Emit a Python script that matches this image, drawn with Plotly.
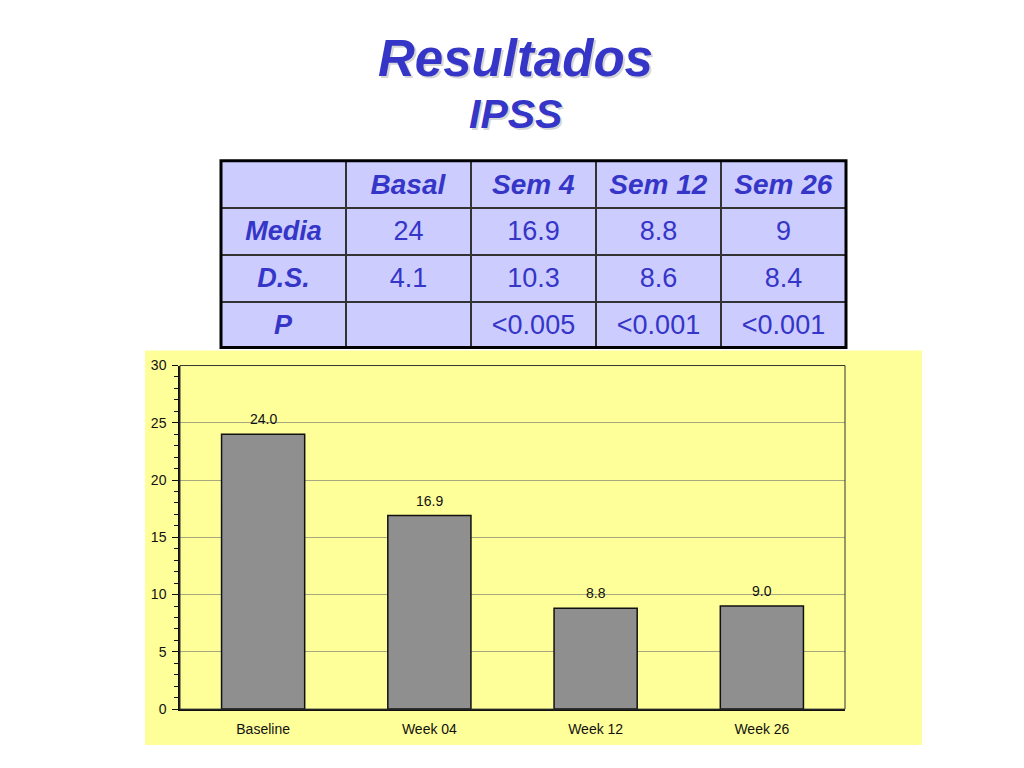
import plotly.graph_objects as go

# chart data
categories = ["Baseline", "Week 04", "Week 12", "Week 26"]
ipss_mean = [24.0, 16.9, 8.8, 9.0]

# table data
table_header = ["", "Basal", "Sem 4", "Sem 12", "Sem 26"]
row_labels = ["Media", "D.S.", "P"]
col_basal = ["24", "4.1", ""]
col_sem4 = ["16.9", "10.3", "<0.005"]
col_sem12 = ["8.8", "8.6", "<0.001"]
col_sem26 = ["9", "8.4", "<0.001"]

# the page body has an 8px margin on every side; keep the figure inside it
OFF = 8
W, H = 1024 - 2 * OFF, 768 - 2 * OFF
# measured: the paper area lands ~15px down and ~2% shorter on screen
Y0, YS = 15, 0.98
BLUE = "#3535c8"
LAV = "#ccccff"
YEL = "#ffff99"
FONT = "Liberation Sans, Arial"


def fx(x):
    return (x - OFF) / W


def fy(y):
    return 1 - ((y - Y0) / YS) / H


def bi(s):
    return "<b><i>%s</i></b>" % s if s else s


def sp(s):
    return "<span>%s</span>" % s if s else s


fig = go.Figure()

fig.add_trace(go.Table(
    domain=dict(x=[fx(221), fx(846)], y=[fy(348), fy(160)]),
    header=dict(
        values=[bi(h) for h in table_header],
        fill_color=LAV,
        line=dict(color="#333333", width=1.5),
        font=dict(family=FONT, size=28, color=BLUE),
        align="center",
        height=47,
    ),
    cells=dict(
        values=[[bi(r) for r in row_labels]] +
               [[sp(v) for v in col] for col in (col_basal, col_sem4, col_sem12, col_sem26)],
        fill_color=LAV,
        line=dict(color="#333333", width=1.5),
        font=dict(family=FONT, size=27, color=BLUE),
        align="center",
        height=47,
    ),
))

fig.add_trace(go.Bar(
    x=categories,
    y=ipss_mean,
    width=0.5,
    marker=dict(color="#8f8f8f", line=dict(color="#111111", width=1.5)),
    showlegend=False,
))

# value labels above the bars
labels = [dict(x=c, y=v, text="%.1f" % v, xref="x", yref="y", showarrow=False,
               yanchor="middle", yshift=15,
               font=dict(family=FONT, size=14, color="#111111"))
          for c, v in zip(categories, ipss_mean)]

# title lines, with a faint drop shadow under each
titles = []
for txt, ypx, size in [("Resultados", 58, 51), ("IPSS", 113, 41)]:
    for col, dx, dy in [("rgba(0,0,0,0.16)", 2, -2), (BLUE, 0, 0)]:
        titles.append(dict(text="<b><i>%s</i></b>" % txt, x=fx(515), y=fy(ypx),
                           xref="paper", yref="paper", xanchor="center", yanchor="middle",
                           xshift=dx, yshift=dy, showarrow=False,
                           font=dict(size=size, color=col, family=FONT)))

fig.update_layout(
    width=W, height=H,
    margin=dict(l=0, r=0, t=0, b=0),
    paper_bgcolor="white",
    plot_bgcolor=YEL,
    font=dict(family=FONT, color="#111111"),
    xaxis=dict(
        domain=[fx(180), fx(845)],
        showline=True, linecolor="#111111", linewidth=1.5,
        ticks="", tickfont=dict(size=14), ticklabelstandoff=6,
        fixedrange=True,
    ),
    yaxis=dict(
        domain=[fy(709), fy(365)],
        range=[0, 30], dtick=5,
        showgrid=True, gridcolor="#a8a880", gridwidth=1,
        zeroline=False,
        showline=True, linecolor="#111111", linewidth=1.5,
        ticks="outside", ticklen=6, tickcolor="#111111",
        minor=dict(dtick=1, ticks="outside", ticklen=4, tickcolor="#111111", showgrid=False),
        tickfont=dict(size=14), ticklabelstandoff=3,
    ),
    shapes=[
        # yellow chart panel
        dict(type="rect", xref="paper", yref="paper", layer="below",
             x0=fx(145), x1=fx(922), y0=fy(745), y1=fy(350),
             fillcolor=YEL, line=dict(width=0)),
        # plot frame (top/right)
        dict(type="rect", xref="paper", yref="paper", layer="above",
             x0=fx(180), x1=fx(845), y0=fy(709), y1=fy(365),
             line=dict(color="#333333", width=1)),
        # thick table border
        dict(type="rect", xref="paper", yref="paper", layer="above",
             x0=fx(221), x1=fx(846), y0=fy(347), y1=fy(160),
             line=dict(color="#000000", width=3)),
    ],
    annotations=titles + labels,
)

fig.write_html("out.html")
